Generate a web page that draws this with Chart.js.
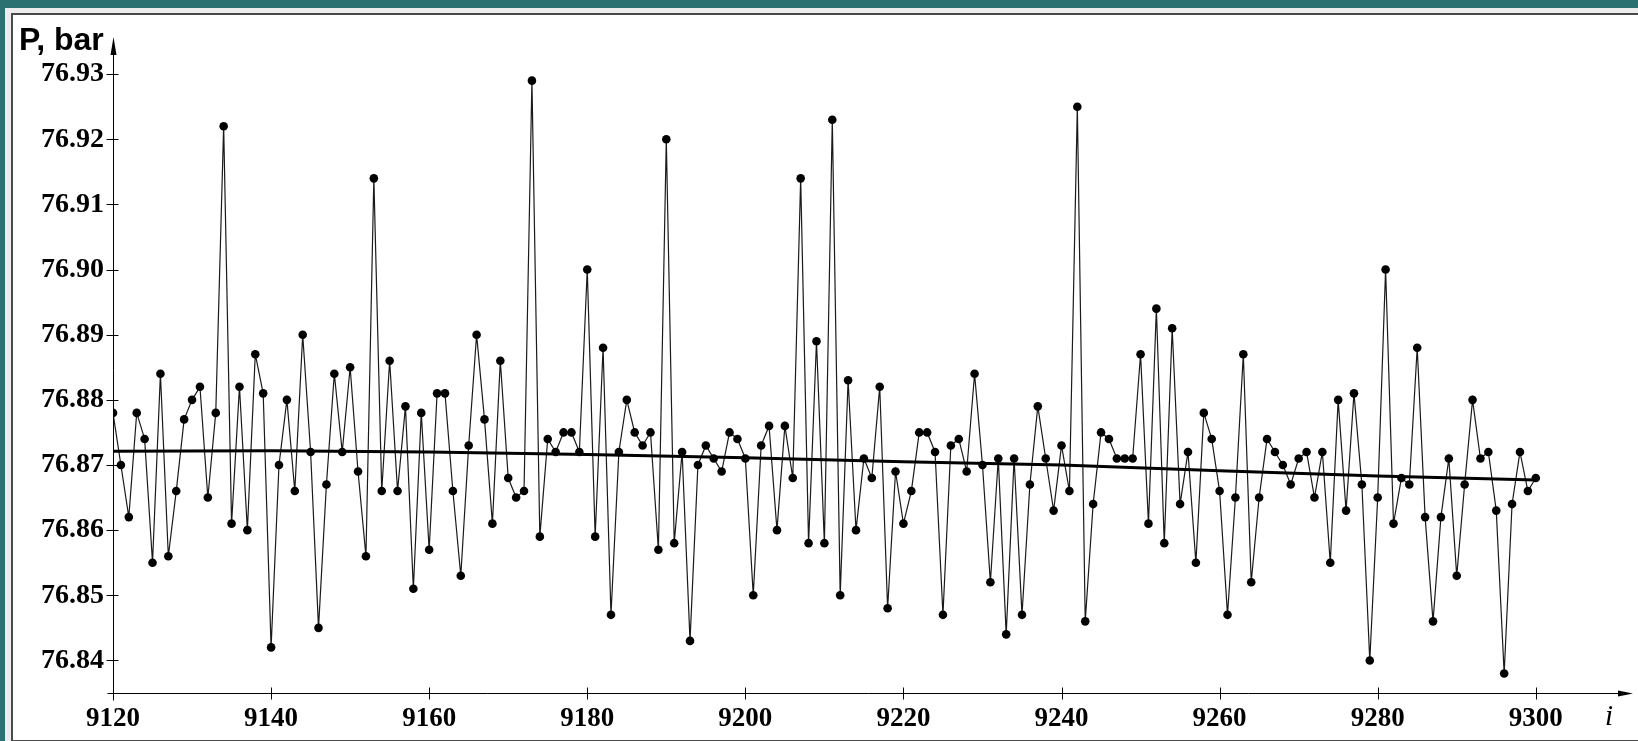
<!DOCTYPE html>
<html>
<head>
<meta charset="utf-8">
<script src="https://cdn.jsdelivr.net/npm/chart.js@4.4.1/dist/chart.umd.min.js"></script>
<style>
  html, body { margin: 0; padding: 0; }
  body { width: 1638px; height: 741px; background: #2b7171; position: relative; overflow: hidden; }
  #band { position: absolute; left: 5px; top: 8px; width: 1640px; height: 740px; background: #ececec; }
  #frame { position: absolute; left: 11px; top: 13px; width: 1640px; height: 725px; background: #fff; border: 2px solid #4a4a4a; }
  #wrap { position: absolute; left: 0; top: 0; width: 1638px; height: 741px; }
</style>
</head>
<body>
<div id="band"></div>
<div id="frame"></div>
<div id="wrap"><canvas id="chart"></canvas></div>
<script>
const startIndex = 9120;

// P, bar for i = 9120 ... 9300
const pressure = [
  76.878, 76.870, 76.862, 76.878, 76.874, 76.855, 76.884, 76.856, 76.866, 76.877,
  76.880, 76.882, 76.865, 76.878, 76.922, 76.861, 76.882, 76.860, 76.887, 76.881,
  76.842, 76.870, 76.880, 76.866, 76.890, 76.872, 76.845, 76.867, 76.884, 76.872,
  76.885, 76.869, 76.856, 76.914, 76.866, 76.886, 76.866, 76.879, 76.851, 76.878,
  76.857, 76.881, 76.881, 76.866, 76.853, 76.873, 76.890, 76.877, 76.861, 76.886,
  76.868, 76.865, 76.866, 76.929, 76.859, 76.874, 76.872, 76.875, 76.875, 76.872,
  76.900, 76.859, 76.888, 76.847, 76.872, 76.880, 76.875, 76.873, 76.875, 76.857,
  76.920, 76.858, 76.872, 76.843, 76.870, 76.873, 76.871, 76.869, 76.875, 76.874,
  76.871, 76.850, 76.873, 76.876, 76.860, 76.876, 76.868, 76.914, 76.858, 76.889,
  76.858, 76.923, 76.850, 76.883, 76.860, 76.871, 76.868, 76.882, 76.848, 76.869,
  76.861, 76.866, 76.875, 76.875, 76.872, 76.847, 76.873, 76.874, 76.869, 76.884,
  76.870, 76.852, 76.871, 76.844, 76.871, 76.847, 76.867, 76.879, 76.871, 76.863,
  76.873, 76.866, 76.925, 76.846, 76.864, 76.875, 76.874, 76.871, 76.871, 76.871,
  76.887, 76.861, 76.894, 76.858, 76.891, 76.864, 76.872, 76.855, 76.878, 76.874,
  76.866, 76.847, 76.865, 76.887, 76.852, 76.865, 76.874, 76.872, 76.870, 76.867,
  76.871, 76.872, 76.865, 76.872, 76.855, 76.880, 76.863, 76.881, 76.867, 76.840,
  76.865, 76.900, 76.861, 76.868, 76.867, 76.888, 76.862, 76.846, 76.862, 76.871,
  76.853, 76.867, 76.880, 76.871, 76.872, 76.863, 76.838, 76.864, 76.872, 76.866,
  76.868
];

// slow trend line, read at every 20th point
const trendIndex = [9120, 9140, 9160, 9180, 9200, 9220, 9240, 9260, 9280, 9300];
const trendValue = [76.8721, 76.8722, 76.8720, 76.8716, 76.8711, 76.8705, 76.8700, 76.8691, 76.8683, 76.8677];

const xTicks = [9120, 9140, 9160, 9180, 9200, 9220, 9240, 9260, 9280, 9300];
const yTicks = [76.84, 76.85, 76.86, 76.87, 76.88, 76.89, 76.90, 76.91, 76.92, 76.93];

const mainPoints = pressure.map((v, k) => ({ x: startIndex + k, y: v }));
const trendPoints = trendIndex.map((x, k) => ({ x: x, y: trendValue[k] }));

const axesPlugin = {
  id: 'axesPlugin',
  afterDraw(chart) {
    const ctx = chart.ctx;
    const a = chart.chartArea;
    const xs = chart.scales.x;
    const ys = chart.scales.y;
    const x0 = Math.round(a.left) + 0.5;
    const y0 = Math.round(a.bottom) + 0.5;
    ctx.save();
    ctx.strokeStyle = '#000';
    ctx.fillStyle = '#000';
    ctx.lineWidth = 1;
    ctx.beginPath();
    // y axis
    ctx.moveTo(x0, y0 + 7);
    ctx.lineTo(x0, a.top + 4);
    // x axis
    ctx.moveTo(x0 - 6, y0);
    ctx.lineTo(a.right - 4, y0);
    // ticks
    yTicks.forEach(v => {
      const py = Math.round(ys.getPixelForValue(v)) + 0.5;
      ctx.moveTo(x0 - 7, py);
      ctx.lineTo(x0 + 5, py);
    });
    xTicks.forEach(v => {
      const px = Math.round(xs.getPixelForValue(v)) + 0.5;
      ctx.moveTo(px, y0 - 6);
      ctx.lineTo(px, y0 + 6);
    });
    ctx.stroke();
    // arrow heads
    ctx.beginPath();
    ctx.moveTo(x0, a.top);
    ctx.lineTo(x0 - 3, a.top + 18);
    ctx.lineTo(x0 + 3, a.top + 18);
    ctx.closePath();
    ctx.fill();
    ctx.beginPath();
    ctx.moveTo(a.right, y0);
    ctx.lineTo(a.right - 15, y0 - 3);
    ctx.lineTo(a.right - 15, y0 + 3);
    ctx.closePath();
    ctx.fill();
    // axis names
    ctx.textBaseline = 'alphabetic';
    ctx.textAlign = 'left';
    ctx.font = 'bold 32px "Liberation Sans", Arial, sans-serif';
    ctx.fillText('P, bar', 19, 50);
    ctx.textAlign = 'center';
    ctx.font = 'italic 29px "Liberation Serif", "Times New Roman", serif';
    ctx.fillText('i', 1609, 725);
    ctx.restore();
  }
};

const ctx = document.getElementById('chart').getContext('2d');
const chart = new Chart(ctx, {
  type: 'line',
  data: {
    datasets: [
      {
        label: 'P',
        data: mainPoints,
        borderColor: '#1a1a1a',
        borderWidth: 1.2,
        pointRadius: 4.3,
        pointBackgroundColor: '#000',
        pointBorderWidth: 0,
        tension: 0,
        order: 2
      },
      {
        label: 'trend',
        data: trendPoints,
        borderColor: '#000',
        borderWidth: 3,
        pointRadius: 0,
        tension: 0,
        order: 1
      }
    ]
  },
  options: {
    responsive: true,
    maintainAspectRatio: false,
    animation: false,
    events: [],
    layout: { padding: { left: 0, top: 37, right: 5, bottom: 0 } },
    plugins: {
      legend: { display: false },
      tooltip: { enabled: false }
    },
    scales: {
      x: {
        type: 'linear',
        min: 9120,
        max: 9312.3,
        grid: { display: false, drawTicks: false },
        border: { display: false },
        afterBuildTicks: s => { s.ticks = xTicks.map(v => ({ value: v })); },
        afterFit: s => { s.height = 48; },
        ticks: {
          padding: 10,
          color: '#000',
          maxRotation: 0,
          font: { family: '"Liberation Serif", "Times New Roman", serif', size: 27, weight: 'bold' },
          callback: v => String(v)
        }
      },
      y: {
        type: 'linear',
        min: 76.835,
        max: 76.9357,
        grid: { display: false, drawTicks: false },
        border: { display: false },
        afterBuildTicks: s => { s.ticks = yTicks.map(v => ({ value: v })); },
        afterFit: s => { s.width = 113; },
        ticks: {
          padding: 9,
          color: '#000',
          font: { family: '"Liberation Serif", "Times New Roman", serif', size: 28, weight: 'bold' },
          callback: v => v.toFixed(2)
        }
      }
    }
  },
  plugins: [axesPlugin]
});
</script>
</body>
</html>
